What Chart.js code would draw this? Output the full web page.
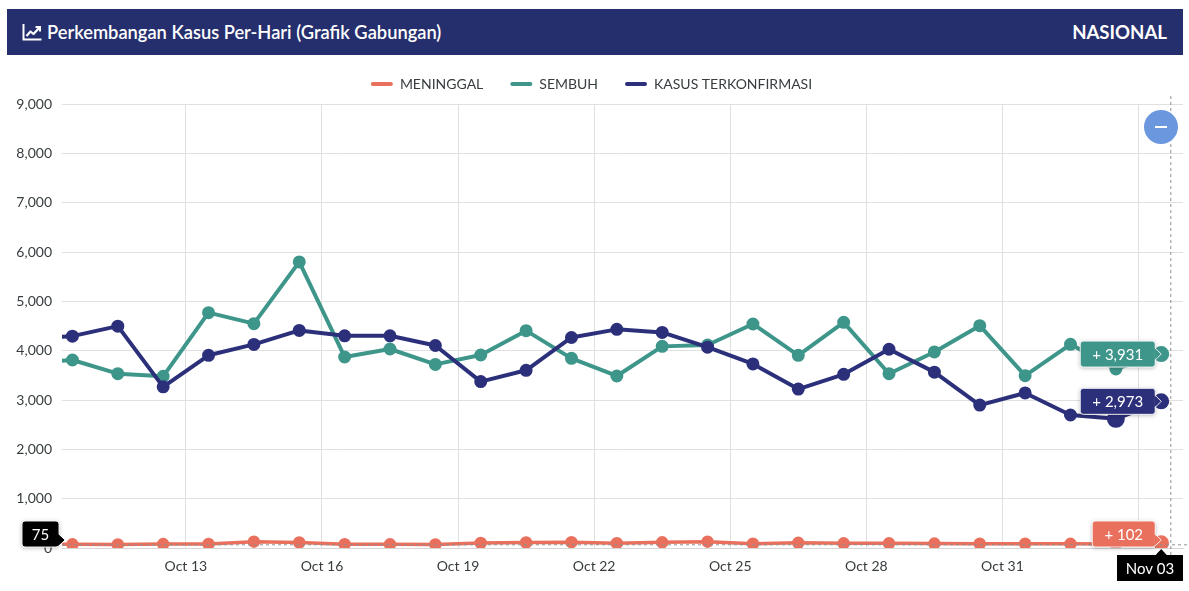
<!DOCTYPE html>
<html>
<head>
<meta charset="utf-8">
<script src="https://cdn.jsdelivr.net/npm/chart.js@4.4.1/dist/chart.umd.min.js"></script>
<style>
  html, body { margin: 0; padding: 0; background: #fff; }
  body { width: 1189px; height: 591px; position: relative; overflow: hidden; font-family: Lato, sans-serif; }
  .header { position: absolute; left: 7px; top: 9px; width: 1176px; height: 46px; background: #262f6d; color: #fff; z-index: 2; }
  .header .title { position: absolute; left: 15px; top: 0; line-height: 46px; font-size: 18.3px; font-weight: 600; }
  .header .title svg { position: absolute; left: 0; top: 14px; }
  .header .title span { margin-left: 25px; }
  .header .region { position: absolute; right: 16px; top: 0; line-height: 46px; font-size: 18.6px; font-weight: 700; }
  .wrap { position: absolute; left: 0; top: 0; width: 1189px; height: 591px; }
  .zoom-btn { position: absolute; left: 1144px; top: 110px; width: 34px; height: 34px; border-radius: 50%; background: #6b97df; z-index: 3; }
  .zoom-btn::after { content: ''; position: absolute; left: 11px; top: 16px; width: 12px; height: 2px; background: #fff; }
</style>
</head>
<body>
<div class="header">
  <div class="title">
    <svg width="20" height="18" viewBox="0 0 20 18">
      <path d="M1.5 1 V16.5 H19.5" stroke="#fff" stroke-width="2" fill="none"/>
      <path d="M4.5 13 L8.5 8.5 L11.5 11 L17.5 4.5" stroke="#fff" stroke-width="2.2" fill="none" stroke-linejoin="round"/>
      <path d="M13.5 4 H18 V8.5" stroke="#fff" stroke-width="2" fill="none"/>
    </svg>
    <span>Perkembangan Kasus Per-Hari (Grafik Gabungan)</span>
  </div>
  <div class="region">NASIONAL</div>
</div>
<div class="wrap"><canvas id="chart"></canvas></div>
<div class="zoom-btn"></div>
<script>
// daily figures, Oct 09 (clipped at the left edge) .. Nov 03
const dates = ["Oct 09", "Oct 10", "Oct 11", "Oct 12", "Oct 13", "Oct 14", "Oct 15", "Oct 16", "Oct 17",
  "Oct 18", "Oct 19", "Oct 20", "Oct 21", "Oct 22", "Oct 23", "Oct 24", "Oct 25", "Oct 26", "Oct 27",
  "Oct 28", "Oct 29", "Oct 30", "Oct 31", "Nov 01", "Nov 02", "Nov 03"];
const meninggal = [76, 74, 72, 80, 82, 129, 112, 76, 75, 73, 102, 112, 118, 98, 115, 128, 86, 104, 95,
  94, 89, 86, 87, 84, 80, 102];
const sembuh = [3750, 3811, 3533, 3479, 4771, 4548, 5799, 3872, 4034, 3722, 3912, 4406, 3844, 3487, 4087,
  4115, 4541, 3905, 4574, 3533, 3974, 4507, 3493, 4128, 3629, 3931];
const terkonfirmasi = [4250, 4294, 4497, 3267, 3906, 4127, 4411, 4301, 4301, 4105, 3373, 3602, 4267, 4432,
  4369, 4070, 3732, 3222, 3520, 4029, 3565, 2897, 3143, 2696, 2618, 2973];
const tickLabels = ["Oct 13", "Oct 16", "Oct 19", "Oct 22", "Oct 25", "Oct 28", "Oct 31", "Nov 03"];
const yTicks = [0, 1000, 2000, 3000, 4000, 5000, 6000, 7000, 8000, 9000];

const last = dates.length - 1;
const toPoints = arr => arr.map((v, i) => ({ x: i, y: v }));
const fmt = v => v.toLocaleString('en-US');

// hover state shown in the picture
const crossIndex = last + 0.2;
const crossValue = 75;

// legend sits a little higher above the plot than chart.js leaves by default
const legendGap = {
  id: 'legendGap',
  beforeInit(chart) {
    const fit = chart.legend.fit;
    chart.legend.fit = function () { fit.call(this); this.height += 3; };
  }
};

function valueBox(ctx, text, right, cy, ay, color, pad) {
  ctx.font = '15px Lato';
  const w = Math.round(ctx.measureText(text).width) + pad * 2, h = 26;
  const left = right - w, top = cy - h / 2;
  ctx.save();
  ctx.shadowColor = 'rgba(0,0,0,0.3)';
  ctx.shadowBlur = 4;
  ctx.shadowOffsetY = 1;
  ctx.fillStyle = color;
  ctx.beginPath();
  ctx.roundRect(left, top, w, h, 3);
  ctx.fill();
  ctx.shadowColor = 'transparent';
  ctx.strokeStyle = 'rgba(255,255,255,0.9)';
  ctx.lineWidth = 1;
  ctx.stroke();
  ctx.beginPath();
  ctx.moveTo(right - 1, ay - 6);
  ctx.lineTo(right + 6, ay);
  ctx.lineTo(right - 1, ay + 6);
  ctx.closePath();
  ctx.fill();
  ctx.beginPath();
  ctx.moveTo(right, ay - 6);
  ctx.lineTo(right + 6, ay);
  ctx.lineTo(right, ay + 6);
  ctx.stroke();
  ctx.fillStyle = '#fff';
  ctx.textAlign = 'center';
  ctx.textBaseline = 'middle';
  ctx.fillText(text, left + w / 2, cy + 1);
  ctx.restore();
}

const hoverLabels = {
  id: 'hoverLabels',
  afterDatasetsDraw(chart) {
    const { ctx, chartArea, scales: { x, y } } = chart;
    const px = x.getPixelForValue(last);
    const cx = x.getPixelForValue(crossIndex);
    const cy = y.getPixelForValue(crossValue);
    ctx.save();
    ctx.setLineDash([3, 3]);
    ctx.strokeStyle = '#909090';
    ctx.lineWidth = 1;
    ctx.beginPath();
    ctx.moveTo(cx + 0.5, chartArea.top - 8);
    ctx.lineTo(cx + 0.5, chartArea.bottom + 8);
    ctx.moveTo(chartArea.left, cy + 0.5);
    ctx.lineTo(chartArea.right + 6, cy + 0.5);
    ctx.stroke();
    ctx.restore();

    chart.data.datasets.forEach(ds => {
      const v = ds.data[last].y;
      const py = y.getPixelForValue(v);
      const cyBox = Math.min(py, chartArea.bottom - 14);
      const ay = Math.min(py, cyBox + 13 - 7);
      valueBox(ctx, '+ ' + fmt(v), px - 6, cyBox, ay, ds.borderColor, 12);
    });

    // y crosshair label
    const cyBox = Math.min(cy, chartArea.bottom - 14);
    valueBox(ctx, String(crossValue), chartArea.left - 3, cyBox, Math.min(cy, cyBox + 6), '#000', 10);

    // x crosshair label
    ctx.save();
    ctx.font = '15px Lato';
    const text = dates[last];
    const w = Math.round(ctx.measureText(text).width) + 18, h = 26;
    let left = cx - w / 2;
    if (left + w > chartArea.right) left = chartArea.right - w;
    const top = chartArea.bottom + 7;
    ctx.fillStyle = '#000';
    ctx.fillRect(left, top, w, h);
    ctx.beginPath();
    ctx.moveTo(px - 6, top + 0.5);
    ctx.lineTo(px, top - 6);
    ctx.lineTo(px + 6, top + 0.5);
    ctx.closePath();
    ctx.fill();
    ctx.fillStyle = '#fff';
    ctx.textAlign = 'center';
    ctx.textBaseline = 'middle';
    ctx.fillText(text, left + w / 2, top + h / 2 + 1);
    ctx.restore();
  }
};

const radius = (big, bigger) => c => c.dataIndex === bigger ? 7 : (c.dataIndex === big ? 6 : 4.5);

new Chart(document.getElementById('chart'), {
  type: 'line',
  data: {
    datasets: [{
      label: 'KASUS TERKONFIRMASI',
      data: toPoints(terkonfirmasi),
      borderColor: '#2c307a',
      backgroundColor: '#2c307a',
      borderWidth: 4,
      pointRadius: radius(last, last - 1)
    }, {
      label: 'SEMBUH',
      data: toPoints(sembuh),
      borderColor: '#3e968b',
      backgroundColor: '#3e968b',
      borderWidth: 4,
      pointRadius: radius(last, -1)
    }, {
      label: 'MENINGGAL',
      data: toPoints(meninggal),
      borderColor: '#e8705c',
      backgroundColor: '#e8705c',
      borderWidth: 3.5,
      pointRadius: radius(last, -1)
    }]
  },
  options: {
    responsive: true,
    maintainAspectRatio: false,
    animation: false,
    events: [],
    layout: { autoPadding: false, padding: { top: 50, right: 6, bottom: 0, left: 0 } },
    elements: {
      line: { tension: 0, borderJoinStyle: 'round', borderCapStyle: 'round' },
      point: { borderColor: '#fff', borderWidth: 1 }
    },
    plugins: {
      legend: {
        reverse: true,
        labels: {
          color: '#373d3f',
          font: { family: 'Lato', size: 14 },
          boxWidth: 22,
          boxHeight: 4,
          padding: 27,
          useBorderRadius: true,
          borderRadius: 2,
          generateLabels: chart => Chart.defaults.plugins.legend.labels.generateLabels(chart)
            .map(item => Object.assign(item, { fillStyle: item.strokeStyle, lineWidth: 0 }))
        }
      },
      tooltip: { enabled: false }
    },
    scales: {
      x: {
        type: 'linear',
        min: 0.77,
        max: 25.48,
        afterBuildTicks: s => { s.ticks = tickLabels.map(l => ({ value: dates.indexOf(l) - 0.5 })); },
        afterFit: s => { s.height = 43; s.paddingLeft = 0; s.paddingRight = 0; },
        ticks: {
          autoSkip: false,
          maxRotation: 0,
          padding: 10,
          color: '#373d3f',
          font: { family: 'Lato', size: 14 },
          callback: (v, i) => tickLabels[i]
        },
        grid: { color: '#e0e0e0', drawTicks: false },
        border: { display: true, color: '#d6d6d6' }
      },
      y: {
        min: 0,
        max: 9000,
        afterBuildTicks: s => { s.ticks = yTicks.map(v => ({ value: v })); },
        afterFit: s => { s.width = 62; },
        ticks: {
          padding: 10,
          color: '#373d3f',
          font: { family: 'Lato', size: 14 },
          callback: v => fmt(v)
        },
        grid: { color: '#e0e0e0', drawTicks: false },
        border: { display: false }
      }
    }
  },
  plugins: [legendGap, hoverLabels]
});
</script>
</body>
</html>
